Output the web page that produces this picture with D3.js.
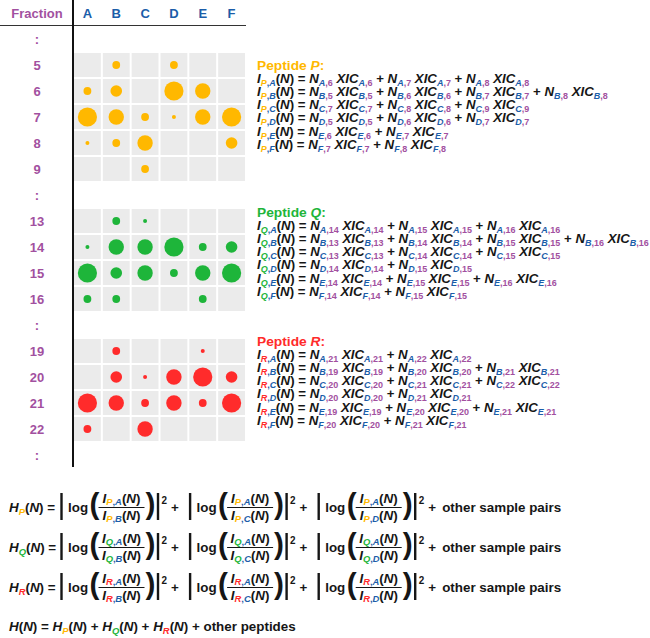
<!DOCTYPE html>
<html><head><meta charset="utf-8">
<script src="https://cdn.jsdelivr.net/npm/d3@7"></script>
<style>
body{margin:0;background:#fff}
svg{display:block}
text{font-family:"Liberation Sans",Arial,Helvetica,sans-serif;font-weight:bold;white-space:pre}
</style>
</head><body><svg id="c" width="650" height="638"></svg>
<script>
// ---------------- data ----------------
const columns = ["A","B","C","D","E","F"];
const rowLabels = [":", "5","6","7","8","9",":","13","14","15","16",":","19","20","21","22",":"];
const peptides = ["P","Q","R"];
const peptideColors = ["#FFB800","#1EB53A","#FF2B2B"];
const fractionsP = [5,6,7,8,9];
const intensityP = [[0,2,0,2,0,0],[2,3,0,5,4,0],[5,4,2,1,4,5],[1,2,4,0,0,3],[0,0,2,0,0,0]];
const fractionsQ = [13,14,15,16];
const intensityQ = [[0,2,1,0,0,0],[1,4,4,5,2,3],[5,3,4,2,4,5],[2,2,0,0,2,0]];
const fractionsR = [19,20,21,22];
const intensityR = [[0,2,0,0,1,0],[0,3,1,4,5,3],[5,4,2,4,2,5],[2,0,4,0,0,0]];
const ratioPairs = [["A","B"],["A","C"],["A","D"]];
const otherPairsText = "other sample pairs";
const otherPeptidesText = "other peptides";

const fractionsAll = [fractionsP, fractionsQ, fractionsR];
const intensityAll = [intensityP, intensityQ, intensityR];

// ---------------- style ----------------
const purple = "#A2509F", blue = "#1B5DA9", ink = "#161616", cellFill = "#EBEBEB";

const svg = d3.select("#c");
const x = d3.scaleBand().domain(columns).range([73, 246]);
const y = d3.scaleBand().domain(d3.range(rowLabels.length)).range([26, 468]);
const r = d3.scaleLinear().domain([1, 5]).range([2, 9.6]);

// header
svg.append("text").attr("x", 37).attr("y", 13).attr("text-anchor", "middle")
  .attr("dominant-baseline", "central").attr("fill", purple).style("font-size", "13px").text("Fraction");
svg.append("g").selectAll("text").data(columns).join("text")
  .attr("x", d => x(d) + x.bandwidth() / 2).attr("y", 13).attr("text-anchor", "middle")
  .attr("dominant-baseline", "central").attr("fill", blue).style("font-size", "13px").text(d => d);

// row labels
svg.append("g").selectAll("text").data(rowLabels).join("text")
  .attr("x", 37).attr("y", (d, i) => y(i) + y.bandwidth() / 2).attr("text-anchor", "middle")
  .attr("dominant-baseline", "central").attr("fill", purple).style("font-size", "13px").text(d => d);

// cells and circles
peptides.forEach((p, pi) => {
  const g = svg.append("g");
  fractionsAll[pi].forEach((f, k) => {
    const ri = rowLabels.indexOf(String(f));
    columns.forEach((c, ci) => {
      g.append("rect").attr("x", x(c) + 1).attr("y", y(ri) + 1)
        .attr("width", x.bandwidth() - 2).attr("height", y.bandwidth() - 2).attr("fill", cellFill);
      const v = intensityAll[pi][k][ci];
      if (v > 0) g.append("circle").attr("cx", x(c) + x.bandwidth() / 2).attr("cy", y(ri) + y.bandwidth() / 2)
        .attr("r", r(v)).attr("fill", peptideColors[pi]);
    });
  });
});

// axis lines
svg.append("line").attr("x1", 0).attr("x2", 246).attr("y1", 25.5).attr("y2", 25.5).attr("stroke", "#333").attr("stroke-width", 1.2);
svg.append("line").attr("x1", 73).attr("x2", 73).attr("y1", 0).attr("y2", 467).attr("stroke", "#111").attr("stroke-width", 2);

// ---------------- rich text helper ----------------
function rich(parent, tx, ty, segs, size, subSize, sx, anchor, subShift) {
  const g = parent.append("g").attr("transform", `translate(${tx},${ty}) scale(${sx},1)`);
  const t = g.append("text").attr("x", 0).attr("y", 0).style("font-size", size + "px");
  if (anchor) t.attr("text-anchor", anchor);
  const sh = subShift != null ? subShift : size * 0.24;
  let cur = 0;
  segs.forEach(s => {
    const want = s.s ? sh : (s.sup ? -size * 0.4 : 0);
    const ts = t.append("tspan").text(s.t).attr("fill", s.c || ink);
    if (want !== cur) ts.attr("dy", want - cur);
    cur = want;
    if (s.s || s.sup) ts.style("font-size", subSize + "px");
    if (s.i) ts.style("font-style", "italic");
  });
  return t;
}
function measure(segs, size, subSize) {
  const t = rich(svg, -1000, -1000, segs, size, subSize, 1);
  const w = t.node().getComputedTextLength();
  t.node().parentNode.remove();
  return w;
}

function eqSegs(p, pc, L, fs) {
  const s = [{t: "I", i: 1}, {t: p, c: pc, i: 1, s: 1}, {t: ",", c: blue, s: 1}, {t: L, c: blue, i: 1, s: 1},
             {t: "("}, {t: "N", i: 1}, {t: ") = "}];
  fs.forEach((f, k) => {
    if (k) s.push({t: " + "});
    s.push({t: "N", i: 1}, {t: L, c: blue, i: 1, s: 1}, {t: "," + f, c: purple, s: 1},
           {t: " XIC", i: 1}, {t: L, c: blue, i: 1, s: 1}, {t: "," + f, c: purple, s: 1});
  });
  return s;
}

// ---------------- peptide equations ----------------
const eqSize = 12.5, eqSub = 8.5;
const eqRef = eqSegs("P", peptideColors[0], "B", [5, 6, 7, 8]);
const eqSx = 351 / measure(eqRef, eqSize, eqSub);
const headerY = [65, 212, 341];
const lineStep = 13.2;
peptides.forEach((p, pi) => {
  const pc = peptideColors[pi];
  const hy = headerY[pi];
  rich(svg, 257, hy + 4.7, [{t: "Peptide ", c: pc}, {t: p, c: pc, i: 1}, {t: ":", c: pc}], 13, 9, eqSx);
  columns.forEach((c, ci) => {
    const fs = fractionsAll[pi].filter((f, k) => intensityAll[pi][k][ci] > 0);
    rich(svg, 257, hy + lineStep * (ci + 1) + 4.5, eqSegs(p, pc, c, fs), eqSize, eqSub, eqSx);
  });
});

// ---------------- H formulas ----------------
const hSize = 13.5, hSub = 9.5;
const hSx = 119 / measure([{t: otherPairsText}], hSize, hSub);
const rowY0 = 506.5, rowStep = 40;
const termX0 = 61.5, termStep = 128.6;

peptides.forEach((p, pi) => {
  const pc = peptideColors[pi];
  const yc = rowY0 + rowStep * pi;
  const g = svg.append("g");
  rich(g, 9, yc + 5, [{t: "H", i: 1}, {t: p, c: pc, i: 1, s: 1}, {t: "("}, {t: "N", i: 1}, {t: ") ="}], hSize, hSub, hSx);
  ratioPairs.forEach((pair, ti) => {
    const tx = termX0 + termStep * ti;
    const bar = xx => g.append("line").attr("x1", xx).attr("x2", xx).attr("y1", yc - 13.5).attr("y2", yc + 13.5)
      .attr("stroke", ink).attr("stroke-width", 2.4);
    bar(tx);
    rich(g, tx + 6.5, yc + 5, [{t: "log"}], hSize, hSub, hSx);
    rich(g, tx + 28, yc + 7.8, [{t: "("}], 30, 30, hSx);
    const fseg = L => [{t: "I", i: 1}, {t: p, c: pc, i: 1, s: 1}, {t: ",", c: blue, s: 1}, {t: L, c: blue, i: 1, s: 1},
                       {t: "("}, {t: "N", i: 1}, {t: ")"}];
    rich(g, tx + 60, yc - 4, fseg(pair[0]), 13.5, 9.5, hSx, "middle", 2.6);
    rich(g, tx + 60, yc + 13, fseg(pair[1]), 13.5, 9.5, hSx, "middle", 2.6);
    g.append("line").attr("x1", tx + 37).attr("x2", tx + 83).attr("y1", yc + 1).attr("y2", yc + 1)
      .attr("stroke", ink).attr("stroke-width", 1.1);
    rich(g, tx + 84, yc + 7.8, [{t: ")"}], 30, 30, hSx);
    bar(tx + 96.5);
    rich(g, tx + 100, yc - 3, [{t: "2"}], 10, 10, hSx);
    rich(g, tx + 109.5, yc + 5, [{t: "+"}], hSize, hSub, hSx);
  });
  rich(g, termX0 + termStep * (ratioPairs.length - 1) + 123.5, yc + 5, [{t: otherPairsText}], hSize, hSub, hSx);
});

// total
const totSegs = [{t: "H", i: 1}, {t: "("}, {t: "N", i: 1}, {t: ") = "}];
peptides.forEach((p, pi) => {
  totSegs.push({t: "H", i: 1}, {t: p, c: peptideColors[pi], i: 1, s: 1}, {t: "("}, {t: "N", i: 1}, {t: ") + "});
});
totSegs.push({t: otherPeptidesText});
rich(svg, 9, rowY0 + rowStep * 3 - 0.5 + 5, totSegs, hSize, hSub, hSx);
</script>
</body></html>
